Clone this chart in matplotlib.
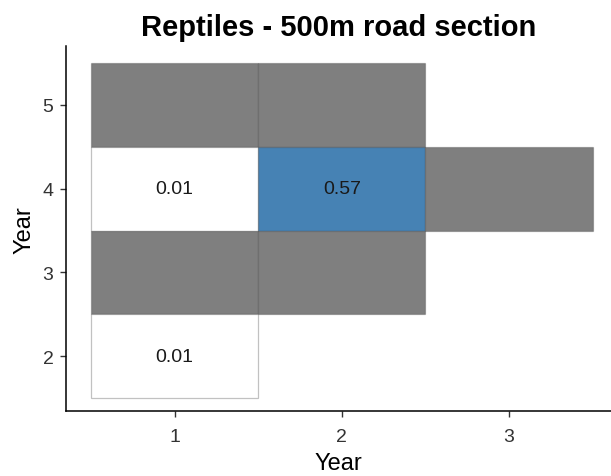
import numpy as np
import matplotlib
matplotlib.use("Agg")
import matplotlib.pyplot as plt
from matplotlib.colors import LinearSegmentedColormap, Normalize

plt.rcParams['font.family'] = ['Liberation Sans', 'DejaVu Sans']

# Tile data: year pair (x, y) and the value in each cell (NaN = no estimate)
year_x = [1, 2, 1, 2, 3, 1, 2, 1]
year_y = [5, 5, 4, 4, 4, 3, 3, 2]
values = [np.nan, np.nan, 0.01, 0.57, np.nan, np.nan, np.nan, 0.01]
x_ticks = [1, 2, 3]
y_ticks = [2, 3, 4, 5]

cmap = LinearSegmentedColormap.from_list("wb", ["#FFFFFF", "#4682B4"])
finite = [v for v in values if not np.isnan(v)]
norm = Normalize(vmin=min(finite), vmax=max(finite))
na_color = "#7F7F7F"

fig = plt.figure(figsize=(6.11, 4.77), dpi=100)
ax = fig.add_axes([0.108, 0.136, 0.892, 0.765])

colors = [na_color if np.isnan(v) else cmap(norm(v)) for v in values]
ax.bar(year_x, height=[1] * len(year_y), bottom=[y - 0.5 for y in year_y],
       width=1.0, color=colors, edgecolor=(0.2, 0.2, 0.2, 0.3), linewidth=0.9,
       align="center")

for xv, yv, v in zip(year_x, year_y, values):
    if not np.isnan(v):
        ax.text(xv, yv, f"{v:.2f}", ha="center", va="center",
                fontsize=14, color="#1A1A1A")

ax.set_xlim(0.35, 3.61)
ax.set_ylim(1.345, 5.70)
ax.set_xticks(x_ticks)
ax.set_yticks(y_ticks)
ax.tick_params(axis="both", labelsize=14, length=4, width=1,
               color="#333333", labelcolor="#333333")
ax.tick_params(axis="x", pad=8)
ax.tick_params(axis="y", pad=5)
for s in ["top", "right"]:
    ax.spines[s].set_visible(False)
for s in ["left", "bottom"]:
    ax.spines[s].set_linewidth(1.1)
    ax.spines[s].set_color("black")

ax.set_xlabel("Year", fontsize=17, labelpad=5)
ax.set_ylabel("Year", fontsize=17, labelpad=5)
ax.set_title("Reptiles - 500m road section", fontsize=21, fontweight="bold",
             pad=8)

fig.savefig("out.png", dpi=100)
